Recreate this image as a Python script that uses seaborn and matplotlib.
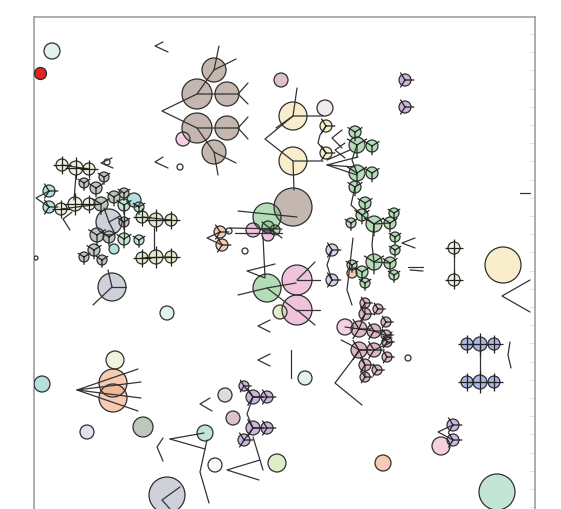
import numpy as np
import pandas as pd
import matplotlib
matplotlib.use("Agg")
import matplotlib.pyplot as plt
import seaborn as sns

# ---------------- data (pixel-space coordinates of the drawing) ----------------
# each cluster: (x list, y list, radius list)
brown_big = ([214, 197, 227, 197, 227, 214, 293], [70, 94, 94, 128, 128, 152, 207], [12, 15, 12, 15, 12, 12, 19])
yellow_big = ([293, 293, 503], [116, 161, 265], [14, 14, 18])
yellow_small = ([326, 326], [126, 153], [6, 6])
green_ring = ([355, 357, 372, 357, 372, 355, 365, 362, 351, 374, 390, 394, 395, 395, 374, 390, 394, 352, 362, 365],
              [132, 145, 146, 173, 173, 187, 203, 215, 223, 224, 223, 213, 237, 250, 262, 263, 275, 265, 272, 283],
              [6, 8, 6, 8, 6, 6, 6, 6, 5, 8, 6, 5, 5, 5, 8, 6, 5, 5, 6, 5])
green_plain = ([267, 267, 268, 275], [217, 288, 227, 230], [14, 14, 6, 5])
mint_ring = ([124, 139, 124, 139], [205, 207, 239, 240], [6, 5, 6, 5])
mint_plain = ([497, 205], [492, 433], [18, 8])
mauve_ring = ([365, 365, 378, 359, 374, 386, 386, 387, 359, 374, 387, 365, 377, 365],
              [303, 314, 309, 329, 331, 322, 335, 342, 350, 350, 357, 365, 370, 377],
              [5, 6, 5, 8, 7, 5, 5, 5, 8, 7, 5, 6, 5, 5])
pink_plain = ([297, 297, 253, 268], [280, 310, 230, 235], [15, 15, 7, 6])
pinklt_plain = ([183, 441, 345], [139, 446, 327], [7, 9, 8])
blue_cross = ([467, 480, 494, 467, 480, 494], [344, 344, 344, 382, 382, 382], [6, 7, 6, 6, 7, 6])
purple_ring = ([405, 405, 453, 453, 244, 253, 267, 253, 267, 244],
               [80, 107, 425, 440, 386, 397, 397, 428, 428, 440],
               [6, 6, 6, 6, 5, 7, 6, 7, 6, 6])
graygreen_ring = ([104, 84, 96, 101, 114, 124, 97, 109, 94, 84, 102, 124],
                  [177, 183, 188, 204, 197, 193, 235, 237, 250, 257, 260, 222],
                  [5, 5, 6, 7, 6, 5, 7, 6, 6, 5, 5, 5])
graygreen_plain = ([143], [427], [10])
cream_cross = ([62, 76, 89, 61, 75, 89, 454, 454], [165, 168, 169, 209, 204, 204, 248, 280], [6, 7, 6, 6, 7, 6, 6, 6])
cream_plain = ([115], [360], [9])
yg_cross = ([142, 156, 171, 142, 156, 171], [217, 220, 220, 258, 257, 257], [6, 7, 6, 6, 7, 6])
yg_plain = ([277, 280], [463, 312], [9, 7])
teal_ring = ([49, 49], [191, 207], [6, 6])
teal_plain = ([42, 134, 114], [384, 200, 249], [8, 7, 5])
peach_ring = ([220, 222], [232, 245], [6, 6])
peach_plain = ([113, 113, 383, 352], [383, 398, 463, 273], [14, 14, 8, 5])
grayblue_plain = ([109, 112, 167], [222, 287, 495], [13, 14, 18])
gray_plain = ([225], [395], [7])
rose_plain = ([281, 233], [80, 418], [7, 7])
blush_plain = ([325], [108], [8])
lbg_ring = ([332, 332], [250, 280], [6, 6])
mintpale_plain = ([52, 167, 305], [51, 313, 378], [8, 7, 7])
lavender_plain = ([87], [432], [7])
white_plain = ([215, 180, 107, 245, 408, 229, 36], [465, 167, 162, 251, 358, 231, 258], [7, 3, 3, 3, 3, 3, 2])
red_dot = ([40], [73], [6])

LAYERS = [
    (brown_big, "brown", ""), (yellow_big, "yellow", ""), (yellow_small, "yellow", "4"),
    (green_ring, "green", "1"), (green_plain, "green", ""), (mint_ring, "mint", "1"),
    (mint_plain, "mint", ""), (mauve_ring, "mauve", "4"), (pink_plain, "pink", ""),
    (pinklt_plain, "pinklt", ""), (blue_cross, "blue", "+"), (purple_ring, "purple", "4"),
    (graygreen_ring, "graygreen", "1"), (graygreen_plain, "graygreen", ""),
    (cream_cross, "cream", "+"), (cream_plain, "cream", ""), (yg_cross, "yg", "+"),
    (yg_plain, "yg", ""), (teal_ring, "teal", "4"), (teal_plain, "teal", ""),
    (peach_ring, "peach", "4"), (peach_plain, "peach", ""), (grayblue_plain, "grayblue", ""),
    (gray_plain, "gray", ""), (rose_plain, "rose", ""), (blush_plain, "blush", ""),
    (lbg_ring, "lbg", "4"), (mintpale_plain, "mintpale", ""), (lavender_plain, "lavender", ""),
    (white_plain, "white", ""),
]

PALETTE = {
    "brown": "#a18c7e", "yellow": "#f6e4ae", "green": "#86c98c", "mint": "#9fd6bc",
    "mauve": "#c98ca5", "pink": "#e89ec9", "pinklt": "#eeb3d0", "blue": "#7a8cd6",
    "purple": "#ab8cc9", "graygreen": "#96a396", "cream": "#e8edc8", "yg": "#cfe2a8",
    "teal": "#86d0ca", "peach": "#efab86", "grayblue": "#b1b3c4", "gray": "#c4c9cd",
    "rose": "#c79fac", "blush": "#ebe0df", "lbg": "#b5bbe0", "mintpale": "#d3ecdf",
    "lavender": "#d6cbe6", "white": "#f5f9f9",
}

# line strokes (polylines)
STROKES = [
    [(163, 42), (155, 46), (168, 52)], [(163, 157), (155, 162), (168, 168)],
    [(219, 46), (214, 70), (236, 59)], [(214, 70), (197, 94), (238, 94)],
    [(248, 83), (238, 94), (248, 104)], [(197, 94), (162, 111), (197, 128), (238, 128)],
    [(248, 117), (238, 128), (248, 139)], [(197, 128), (214, 152), (218, 175)],
    [(214, 152), (236, 163)],
    [(297, 88), (293, 116), (323, 116)], [(293, 116), (276, 128)],
    [(293, 116), (265, 139), (293, 161), (323, 161)], [(293, 161), (294, 190)],
    [(326, 126), (320, 135), (318, 143), (326, 153)],
    [(342, 130), (332, 138), (342, 148)], [(345, 143), (335, 150), (345, 158)],
    [(358, 157), (327, 165), (355, 167)], [(327, 165), (357, 175)], [(327, 160), (350, 150)],
    [(362, 215), (374, 224), (390, 223)], [(374, 224), (372, 245), (374, 262), (390, 263)],
    [(357, 145), (352, 160), (357, 173)], [(355, 187), (351, 205), (362, 215)],
    [(415, 238), (402, 243), (415, 248)], [(408, 267), (423, 267)], [(410, 270), (423, 271)],
    [(353, 238), (347, 290), (352, 305)], [(332, 250), (327, 265), (332, 280)],
    [(238, 211), (297, 217)], [(230, 228), (282, 229)], [(235, 233), (282, 233)],
    [(262, 222), (282, 238)], [(220, 232), (207, 238), (222, 245)],
    [(263, 237), (265, 277)], [(238, 295), (267, 288), (296, 283)], [(267, 288), (297, 311)],
    [(297, 280), (315, 262)], [(297, 280), (320, 280)], [(297, 310), (315, 325)],
    [(297, 310), (320, 310)], [(275, 264), (247, 271), (265, 278)],
    [(270, 320), (258, 326), (270, 332)], [(270, 354), (258, 360), (270, 366)],
    [(291, 350), (291, 378)],
    [(345, 327), (359, 329), (374, 331)], [(359, 329), (365, 314), (365, 303)],
    [(341, 340), (349, 344), (359, 350), (374, 350)], [(360, 350), (335, 383), (362, 405)],
    [(359, 350), (365, 365), (365, 377)], [(374, 331), (392, 338)], [(374, 350), (392, 342)],
    [(380, 345), (392, 332)],
    [(454, 248), (454, 280)], [(530, 280), (502, 296), (530, 312)], [(480, 344), (480, 382)],
    [(510, 342), (508, 355), (511, 368)], [(520, 193), (530, 193)], [(453, 425), (438, 432), (453, 440)],
    [(49, 191), (36, 198), (49, 207)], [(61, 209), (101, 204)], [(62, 165), (89, 169)],
    [(76, 175), (74, 200)], [(72, 212), (63, 219), (70, 230)], [(112, 158), (101, 163), (113, 168)],
    [(109, 222), (120, 216)], [(109, 222), (104, 208)], [(109, 222), (115, 234)],
    [(124, 205), (124, 239)], [(112, 287), (126, 287)], [(112, 287), (93, 305)],
    [(112, 287), (108, 270)], [(142, 217), (171, 220)], [(142, 258), (171, 257)],
    [(154, 227), (154, 250)],
    [(138, 369), (77, 390), (141, 382)], [(77, 390), (141, 398)], [(77, 390), (138, 411)],
    [(170, 439), (204, 433)], [(170, 439), (205, 449)], [(163, 438), (157, 447), (163, 461)],
    [(207, 440), (200, 472), (209, 503)], [(260, 460), (227, 470), (259, 480)],
    [(253, 437), (263, 470)], [(244, 386), (253, 397), (267, 397)],
    [(253, 397), (247, 414), (253, 428), (267, 428)], [(253, 428), (244, 440)],
    [(210, 398), (200, 404), (212, 411)], [(180, 487), (162, 500), (170, 509)],
]

# ---------------- build table ----------------
rows = []
for (xs, ys, rs), hue, spoke in LAYERS:
    for x, y, r in zip(xs, ys, rs):
        rows.append((x, y, r, hue, spoke))
df = pd.DataFrame(rows, columns=["x", "y", "r", "hue", "spoke"])
PT = 72 / 100.0
df["s"] = (2 * df["r"] * PT) ** 2
df["ss"] = (1.55 * 2 * df["r"] * PT) ** 2

# ---------------- figure ----------------
sns.set_theme(style="white")
W, H = 561, 509
fig = plt.figure(figsize=(W / 100, H / 100), dpi=100)
L, R, T, B = 34, 535, 17, 560
ax = fig.add_axes([L / W, 1 - B / H, (R - L) / W, (B - T) / H])

for st in STROKES:
    xs, ys = zip(*st)
    ax.plot(xs, ys, color="#333333", lw=0.9, zorder=3)

sns.scatterplot(data=df, x="x", y="y", hue="hue", palette=PALETTE, s=df["s"].to_numpy(),
                alpha=0.62, linewidth=0, legend=False, ax=ax, zorder=2)
ax.scatter(df["x"], df["y"], s=df["s"], facecolors="none", edgecolors="#2f2f2f",
           linewidths=0.9, zorder=4)
for m in ["1", "4", "+"]:
    sub = df[df["spoke"] == m]
    ax.scatter(sub["x"], sub["y"], s=sub["ss"], marker=m, c="#222222", linewidths=0.9, zorder=5)

rx, ry, rr = red_dot
ax.scatter(rx, ry, s=[(2 * v * PT) ** 2 for v in rr], color="#e42222", edgecolors="#2a2a2a",
           linewidths=0.9, zorder=6)

ax.set_xlim(L, R)
ax.set_ylim(B, T)
ax.set_xlabel("")
ax.set_ylabel("")
ax.set_xticks([])
ax.set_yticks(np.arange(34, 560, 18.2))
ax.tick_params(axis="y", left=False, right=True, direction="in", length=4, width=0.7,
               color="#e4e4e4", labelleft=False, labelright=False)
for sp in ax.spines.values():
    sp.set_color("#a0a0a0")
    sp.set_linewidth(1.2)

fig.savefig("out.png", dpi=100)
